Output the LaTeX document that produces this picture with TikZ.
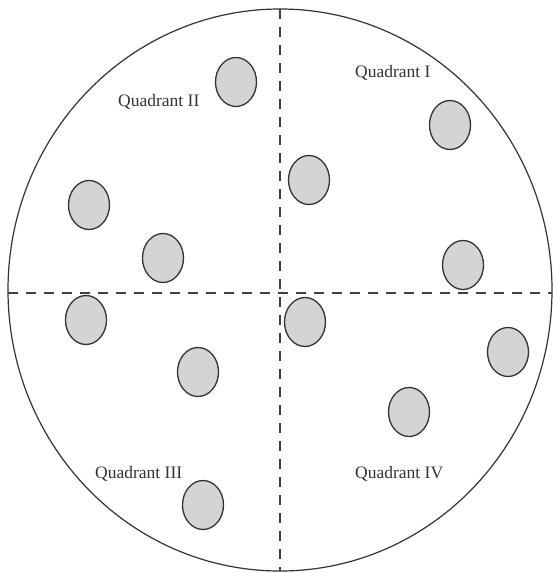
\documentclass[tikz,border=0pt]{standalone}
\usepackage{fontspec}
\setmainfont{Liberation Serif}
\usetikzlibrary{shapes.geometric}
\begin{document}
\begin{tikzpicture}[x=1pt,y=-1pt,
  blob/.style={ellipse, draw=black!80, line width=1.3pt, fill=black!17, minimum width=41pt, minimum height=49pt, inner sep=0pt},
  divider/.style={draw=black!75, line width=1.2pt, dash pattern=on 10pt off 8pt},
  qlabel/.style={font=\fontsize{17.5}{20}\selectfont, text=black!80, inner sep=0pt}]
\useasboundingbox (0,0) rectangle (553,573);
\node[draw=black!80, line width=1.2pt, ellipse, minimum width=544pt, minimum height=562pt, inner sep=0pt] (disk) at (280,290) {};
\coordinate (top) at (280,9);
\coordinate (bot) at (280,571);
\coordinate (lft) at (8,293);
\coordinate (rgt) at (552,293);
\draw[divider] (top) -- (bot);
\draw[divider] (lft) -- (rgt);
\node[qlabel, anchor=base west] (q1) at (355,77) {Quadrant I};
\node[qlabel, anchor=base west] (q2) at (118,106) {Quadrant II};
\node[qlabel, anchor=base west] (q3) at (95,478) {Quadrant III};
\node[qlabel, anchor=base west] (q4) at (355,478) {Quadrant IV};
\node[blob] (b1) at (236,82) {};
\node[blob] (b2) at (450,125) {};
\node[blob] (b3) at (309,180) {};
\node[blob] (b4) at (89,205) {};
\node[blob] (b5) at (163,258) {};
\node[blob] (b6) at (463,265) {};
\node[blob] (b7) at (86,320) {};
\node[blob] (b8) at (305,322) {};
\node[blob] (b9) at (508,352) {};
\node[blob] (b10) at (198,372) {};
\node[blob] (b11) at (409,412) {};
\node[blob] (b12) at (203,505) {};
\end{tikzpicture}
\end{document}
